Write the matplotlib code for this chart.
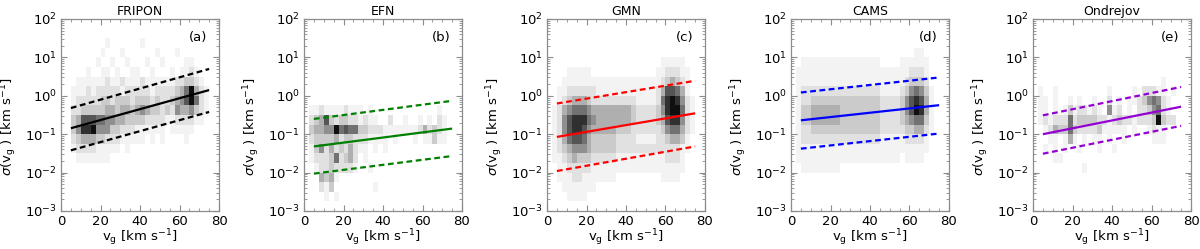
import numpy as np
import matplotlib
matplotlib.use("Agg")
import matplotlib.pyplot as plt
from matplotlib.ticker import MultipleLocator, LogLocator, NullFormatter

# ---------------- data ----------------
titles = ["FRIPON", "EFN", "GMN", "CAMS", "Ondrejov"]
panel_tags = ["(a)", "(b)", "(c)", "(d)", "(e)"]
line_colors = ["black", "green", "red", "blue", "darkviolet"]

# histogram bins: v_g in 2.5 km/s steps, sigma in 0.25 dex steps
vg_edges = np.arange(0, 82.5, 2.5)
sig_edges = np.logspace(-3, 2, 21)

# fit lines, evaluated at v_g = 5 and 75 km/s  (solid, upper dashed, lower dashed)
fit_v = [5, 75]
fit_mid = [[0.143, 1.41], [0.048, 0.14], [0.085, 0.35], [0.23, 0.57], [0.10, 0.52]]
fit_up = [[0.48, 5.0], [0.25, 0.74], [0.63, 2.46], [1.22, 3.0], [0.31, 1.7]]
fit_lo = [[0.038, 0.38], [0.0094, 0.027], [0.011, 0.048], [0.042, 0.104], [0.031, 0.165]]

# 2D histogram intensity (0-9), rows from top (10^1.75-10^2) to bottom (10^-3-10^-2.75)
hist_fripon = [
    "00000000 00000000 00000000 00000000",
    "00000000 00000000 00000000 00000000",
    "00000000 01000000 10000000 00000000",
    "00000000 10001000 00010001 00000000",
    "00000001 00100100 01001000 01100000",
    "00000100 11010011 00100010 11210000",
    "00011111 12112111 21111112 23321000",
    "00111212 22221222 22122223 46942100",
    "00122222 33233323 33232234 57962100",
    "00223333 34434434 54332325 44532100",
    "00347776 65544333 32222112 22211000",
    "00358895 55332221 11111011 11100000",
    "00234443 32221111 10101000 01000000",
    "00122221 11110100 00000000 00000000",
    "00011111 11000000 00000000 00000000",
    "00000000 00000000 00000000 00000000",
    "00000000 00000000 00000000 00000000",
    "00000000 00000000 00000000 00000000",
    "00000000 00000000 00000000 00000000",
    "00000000 00000000 00000000 00000000",
]
hist_efn = [
    "00000000 00000000 00000000 00000000",
    "00000000 00000000 00000000 00000000",
    "00000000 00000000 00000000 00000000",
    "00000000 00000000 00000000 00000000",
    "00000000 00000000 00000000 00000000",
    "00000000 00000000 00000000 00000000",
    "00000000 00000000 00000000 00000000",
    "00000000 00000000 00000000 00000000",
    "00000000 00000000 00000000 00000000",
    "01121111 21110100 00000000 00010000",
    "02347323 32212110 02001001 01021000",
    "03445596 76633222 11111112 42321000",
    "02333342 33222111 10100010 11311000",
    "01352423 24211010 10000000 00000000",
    "01222362 34201000 00000000 00000000",
    "00122322 22100100 00000000 00000000",
    "00043410 00000000 00000000 00000000",
    "00021300 00000010 00000000 00000000",
    "00001010 00000000 00000000 00000000",
    "00000000 00000000 00000000 00000000",
]
hist_gmn = [
    "00000000 00000000 00000000 00000000",
    "00000000 00000000 00000000 00000000",
    "00000000 00000000 00000000 00000000",
    "00000000 00000000 00000000 00000000",
    "00000000 00000000 00000001 11110000",
    "00001111 10000000 00000011 22211000",
    "00011111 11111111 11111112 34321000",
    "00112222 22111111 11111124 77641000",
    "00123444 32222222 22111126 89852100",
    "01245666 54444444 43222235 89962100",
    "01257888 65444444 43222234 78852100",
    "01257887 54444433 32222223 56642100",
    "01246776 43333322 22111122 34431000",
    "01234555 43333322 22222222 22211000",
    "01123433 32222211 11111111 22210000",
    "00112222 21111111 11111111 11110000",
    "00111221 11111100 00000001 11100000",
    "00011111 11000000 00000000 00000000",
    "00001111 00000000 00000000 00000000",
    "00000000 00000000 00000000 00000000",
]
hist_cams = [
    "00000000 00000000 00000000 00000000",
    "00000000 00000000 00000000 00000000",
    "00000000 00000000 00000000 00000000",
    "00000000 00000000 00000000 01100000",
    "00111111 11111111 11000011 11110000",
    "01111111 11111111 11111111 22210000",
    "01111111 11111111 11111112 33320000",
    "01222222 22222222 22111123 56531000",
    "01223333 33333333 33222235 78741000",
    "01334444 44333333 33222235 79841000",
    "01334444 44333333 33222234 56631000",
    "01223333 33333333 33222223 34421000",
    "01222222 22222222 22111112 22210000",
    "01111111 11111111 11111111 11110000",
    "01111111 11111111 11111101 11100000",
    "00111111 11000000 00000000 00000000",
    "00000000 00000000 00000000 00000000",
    "00000000 00000000 00000000 00000000",
    "00000000 00000000 00000000 00000000",
    "00000000 00000000 00000000 00000000",
]
hist_ondrejov = [
    "00000000 00000000 00000000 00000000",
    "00000000 00000000 00000000 00000000",
    "00000000 00000000 00000000 00000000",
    "00000000 00000000 00000000 00000000",
    "00000000 00000000 00000000 00000000",
    "00000000 00000000 00000000 00000000",
    "00000000 00000000 00000000 00100000",
    "01001000 00000001 00001022 21101000",
    "01101001 01001002 01011235 65210000",
    "01101013 12212105 12010223 56210000",
    "01212226 23333221 23221222 39322000",
    "00124336 32222311 11101001 21100000",
    "00011014 10101101 00100000 11100000",
    "00101010 01000100 10000000 00000000",
    "00001100 00000000 00000000 00000000",
    "00000000 00100000 00000000 00000000",
    "00000000 00000000 00000000 00000000",
    "00000000 00000000 00000000 00000000",
    "00000000 00000000 00000000 00000000",
    "00000000 00000000 00000000 00000000",
]
hists = [hist_fripon, hist_efn, hist_gmn, hist_cams, hist_ondrejov]

x_ticks = [0, 20, 40, 60, 80]


def to_grid(rows):
    g = np.array([[int(ch) for ch in r.replace(" ", "")] for r in rows], dtype=float)
    return g[::-1]  # bottom row first


# ---------------- figure ----------------
W, H = 1200, 249
fig = plt.figure(figsize=(W / 100, H / 100), dpi=100)
lefts = [61, 304, 547, 791, 1033]
ax_w, ax_top, ax_bot = 158, 19, 211
spine_col = "#8c8c8c"

for i in range(5):
    ax = fig.add_axes([lefts[i] / W, (H - ax_bot) / H, ax_w / W, (ax_bot - ax_top) / H])
    grid = np.ma.masked_equal(to_grid(hists[i]), 0)
    ax.pcolormesh(vg_edges, sig_edges, grid, cmap="Greys", vmin=0, vmax=9.5,
                  shading="flat", edgecolors="none")
    c = line_colors[i]
    ax.plot(fit_v, fit_mid[i], color=c, lw=1.6, solid_capstyle="butt")
    ax.plot(fit_v, fit_up[i], color=c, lw=1.6, ls=(0, (2.6, 1.6)))
    ax.plot(fit_v, fit_lo[i], color=c, lw=1.6, ls=(0, (2.6, 1.6)))

    ax.set_yscale("log")
    ax.set_xlim(0, 80)
    ax.set_ylim(1e-3, 1e2)
    ax.set_xticks(x_ticks)
    ax.xaxis.set_minor_locator(MultipleLocator(5))
    ax.yaxis.set_major_locator(LogLocator(base=10, numticks=10))
    ax.yaxis.set_minor_locator(LogLocator(base=10, subs=np.arange(2, 10), numticks=20))
    ax.yaxis.set_minor_formatter(NullFormatter())
    ax.tick_params(which="both", direction="in", top=True, right=True,
                   color=spine_col, labelsize=9.5, pad=3)
    ax.tick_params(which="major", length=4, width=0.8)
    ax.tick_params(which="minor", length=2.2, width=0.6)
    for s in ax.spines.values():
        s.set_color(spine_col)
        s.set_linewidth(0.9)

    ax.set_title(titles[i], fontsize=9, pad=3)
    ax.set_xlabel(r"v$_\mathregular{g}$ [km s$^{-1}$]", fontsize=9.5)
    ax.xaxis.set_label_coords(0.5, -0.138)
    ax.xaxis.label.set_verticalalignment("center")
    ax.set_ylabel(r"$\sigma$(v$_\mathregular{g}$ ) [km s$^{-1}$]", fontsize=9.5)
    ax.yaxis.set_label_coords(-0.33, 0.44)
    ax.yaxis.label.set_verticalalignment("center")
    ax.text(0.925, 0.935, panel_tags[i], transform=ax.transAxes, ha="right", va="top",
            fontsize=9.5)

fig.savefig("out.png", dpi=100)
